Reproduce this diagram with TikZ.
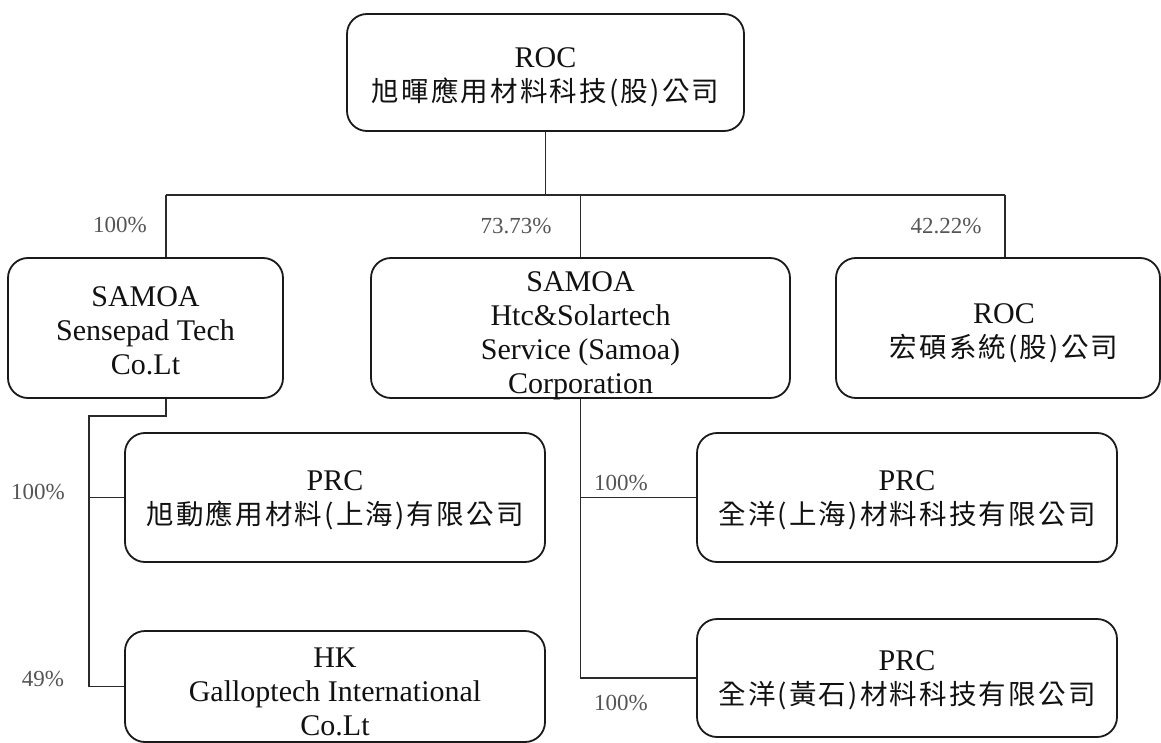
\documentclass[tikz,border=0pt]{standalone}
\usepackage{fontspec}
\setmainfont{Liberation Serif}
\newfontfamily\cjkfont[LetterSpace=8]{Noto Sans CJK TC}
\newcommand{\zhtxt}[1]{{\cjkfont\fontsize{27.5}{34}\selectfont #1}}
\definecolor{boxc}{HTML}{1A1A1A}
\definecolor{linec}{HTML}{2A2A2A}
\definecolor{txtc}{HTML}{111111}
\definecolor{pctc}{HTML}{555555}
\begin{document}
\begin{tikzpicture}[x=1pt,y=-1pt,
  box/.style={draw=boxc, line width=1.8pt, rounded corners=20pt, inner sep=0pt, fill=white},
  conn/.style={draw=linec, line width=1.5pt},
  txt/.style={align=center, text=txtc, font=\fontsize{30}{34}\selectfont, inner sep=0pt},
  pct/.style={text=pctc, font=\fontsize{23}{26}\selectfont, inner sep=0pt}]
\useasboundingbox[fill=white] (0,0) rectangle (1161,743);

% boxes
\node[box, minimum width=397pt, minimum height=117pt] (top) at (545.5,72.5) {};
\node[box, minimum width=275pt, minimum height=140pt] (left) at (145.5,328) {};
\node[box, minimum width=419pt, minimum height=140pt] (mid) at (580.5,328) {};
\node[box, minimum width=324pt, minimum height=140pt] (right) at (998,328) {};
\node[box, minimum width=420pt, minimum height=129pt] (prc) at (335,497.5) {};
\node[box, minimum width=420pt, minimum height=111pt] (hk) at (335,686.5) {};
\node[box, minimum width=420pt, minimum height=129pt] (prca) at (907,497.5) {};
\node[box, minimum width=420pt, minimum height=118pt] (prcb) at (907,678) {};

% texts
\node[txt] (ttop) at (545.5,77) {ROC\\\zhtxt{旭暉應用材料科技(股)公司}};
\node[txt] (tleft) at (145.5,331) {SAMOA\\Sensepad Tech\\Co.Lt};
\node[txt] (tmid) at (580.5,336) {SAMOA\\Htc\&Solartech\\Service (Samoa)\\Corporation};
\node[txt] (tright) at (1004,333) {ROC\\\zhtxt{宏碩系統(股)公司}};
\node[txt] (tprc) at (335,500) {PRC\\\zhtxt{旭動應用材料(上海)有限公司}};
\node[txt] (thk) at (335,692) {HK\\Galloptech International\\Co.Lt};
\node[txt] (tprca) at (907,500) {PRC\\\zhtxt{全洋(上海)材料科技有限公司}};
\node[txt] (tprcb) at (907,680) {PRC\\\zhtxt{全洋(黃石)材料科技有限公司}};

% connectors
\coordinate (busL) at (166,195);
\coordinate (busR) at (1005,195);
\coordinate (jog) at (89,416);
\draw[conn] (top.south) -- (top.south |- busL);
\draw[conn] (busL) -- (busR);
\draw[conn] (busL) -- (busL |- left.north);
\draw[conn] (mid.north |- busL) -- (mid.north);
\draw[conn] (busR) -- (busR |- right.north);
\draw[conn] (busL |- left.south) -- (busL |- jog) -- (jog) -- (jog |- hk.west) -- (hk.west);
\draw[conn] (jog |- prc.west) -- (prc.west);
\draw[conn] (mid.south) -- (mid.south |- prcb.west) -- (prcb.west);
\draw[conn] (mid.south |- prca.west) -- (prca.west);

% percentages
\node[pct] (p1) at (120,225) {100\%};
\node[pct] (p2) at (516,226) {73.73\%};
\node[pct] (p3) at (946,226) {42.22\%};
\node[pct] (p4) at (38,492) {100\%};
\node[pct] (p5) at (43,679) {49\%};
\node[pct] (p6) at (621,483) {100\%};
\node[pct] (p7) at (621,703) {100\%};
\end{tikzpicture}
\end{document}
